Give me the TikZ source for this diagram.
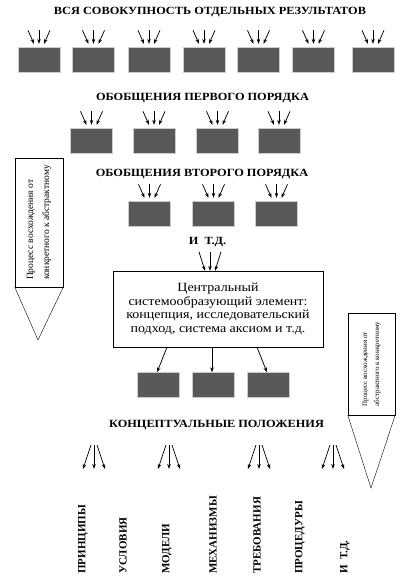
\documentclass[tikz,border=0pt]{standalone}
\usepackage{fontspec}
\setmainfont{Liberation Serif}
\newfontfamily\widefont{Liberation Serif}[FakeStretch=1.12]
\usetikzlibrary{positioning, arrows.meta}

\begin{document}
\begin{tikzpicture}[x=1pt, y=-1pt, >={Stealth[length=5pt, width=3.6pt]},
		blk/.style={rectangle, draw=gray!40, fill=black!65, minimum width=42pt, minimum height=25pt, inner sep=0pt},
		ttl/.style={font=\widefont\fontsize{11}{13}\selectfont\bfseries, inner sep=0pt},
		side/.style={rectangle, draw, inner sep=0pt},
		sidetxt/.style={rotate=90, align=left, inner sep=0pt},
		lbl/.style={rotate=90, anchor=west, font=\fontsize{11}{13}\selectfont\bfseries, inner sep=0pt},
		arr/.style={->, line width=0.75pt}]
		\useasboundingbox (0,0) rectangle (412,576);

		% titles
		\node [ttl] (all) at (210,12) {ВСЯ СОВОКУПНОСТЬ ОТДЕЛЬНЫХ РЕЗУЛЬТАТОВ};
		\node [ttl] (first) at (202.5,98) {ОБОБЩЕНИЯ ПЕРВОГО ПОРЯДКА};
		\node [ttl] (second) at (202,174) {ОБОБЩЕНИЯ ВТОРОГО ПОРЯДКА};
		\node [ttl] (etc) at (207.5,242) {И\ \ Т.Д.};
		\node [ttl] (concept) at (216.5,425) {КОНЦЕПТУАЛЬНЫЕ ПОЛОЖЕНИЯ};

		% rows of boxes
		\foreach \x [count=\i] in {39,93.5,149,204,258.5,313.5,373}
			\node [blk] (a\i) at (\x,60) {};
		\foreach \x [count=\i] in {91.5,154,217.5,279}
			\node [blk] (b\i) at (\x,141) {};
		\foreach \x [count=\i] in {149.5,213.5,276.5}
			\node [blk] (c\i) at (\x,214) {};
		\foreach \x [count=\i] in {158.5,213.5,268.5}
			\node [blk] (d\i) at (\x,385) {};

		% central element
		\node [draw, align=center, minimum width=210pt, minimum height=76pt,
			font=\widefont\fontsize{12.5}{13.5}\selectfont] (core) at (218,309)
			{Центральный\\системообразующий элемент:\\концепция, исследовательский\\подход, система аксиом и т.д.};

		% converging arrows
		\foreach \n in {a1,a2,a3,a4,a5,a6,a7,b1,b2,b3,b4,c1,c2,c3}
			\foreach \d in {-1,0,1}
				\draw [arr] ([xshift=\d*11pt, yshift=17pt]\n.north) -- ([xshift=\d*5pt, yshift=3.5pt]\n.north);
		\foreach \d in {-1,0,1}
			\draw [arr] ([xshift=\d*11pt-8pt, yshift=19pt]core.north) -- ([xshift=\d*5pt-8pt]core.north);

		\path[arr] ([xshift=-51pt]core.south) edge ([xshift=-1.5pt]d1.north);
		\path[arr] ([xshift=-6pt]core.south) edge ([xshift=-1.5pt]d2.north);
		\path[arr] ([xshift=39pt]core.south) edge ([xshift=-1.5pt]d3.north);

		% diverging arrows
		\foreach \x [count=\i] in {94,169,259,333}
			\coordinate (k\i) at (\x,445);
		\foreach \k in {k1,k2,k3,k4}
			\foreach \d in {-1,0,1}
				\draw [arr] ([xshift=\d*3pt]\k) -- ([xshift=\d*11pt, yshift=-24pt]\k);

		% side arrows
		\node [side, minimum width=48pt, minimum height=129pt] (up) at (39,222.5) {};
		\coordinate (uptip) at (38,340);
		\draw (up.south west) -- (uptip) -- (up.south east);
		\node [sidetxt, font=\fontsize{9.5}{16}\selectfont] at (up.center)
			{Процесс восхождения от\\конкретного к абстрактному};

		\node [side, minimum width=47pt, minimum height=102pt] (down) at (371.5,364) {};
		\coordinate (downtip) at (371,488);
		\draw (down.south west) -- (downtip) -- (down.south east);
		\node [sidetxt, font=\fontsize{7}{12}\selectfont] at (down.center)
			{Процесс восхождения от\\абстрактного к конкретному};

		% vertical labels
		\node [lbl] (p1) at (83,574) {ПРИНЦИПЫ};
		\node [lbl] (p2) at (123,574) {УСЛОВИЯ};
		\node [lbl] (p3) at (167,574) {МОДЕЛИ};
		\node [lbl] (p4) at (213,574) {МЕХАНИЗМЫ};
		\node [lbl] (p5) at (257,574) {ТРЕБОВАНИЯ};
		\node [lbl] (p6) at (300,574) {ПРОЦЕДУРЫ};
		\node [lbl] (p7) at (345,574) {И\ \ Т.Д.};
	\end{tikzpicture}
\end{document}
